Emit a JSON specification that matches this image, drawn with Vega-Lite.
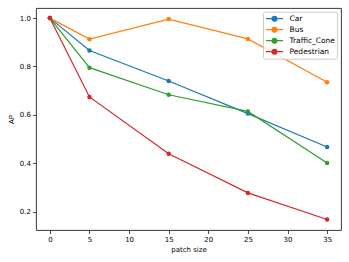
{
  "$schema": "https://vega.github.io/schema/vega-lite/v6.json",
  "width": 305,
  "height": 222,
  "autosize": {"type": "none"},
  "padding": {"left": 36, "top": 8, "right": 8, "bottom": 32},
  "background": "white",
  "config": {
    "font": "DejaVu Sans",
    "view": {"stroke": "#222", "strokeWidth": 0.9},
    "axis": {
      "grid": false,
      "domain": false,
      "tickColor": "#222",
      "tickSize": 3.5,
      "tickWidth": 0.8,
      "labelFontSize": 7,
      "labelColor": "#000",
      "labelFont": "DejaVu Sans",
      "titleFontSize": 7,
      "titleFontWeight": "normal",
      "titleColor": "#000",
      "labelPadding": 2
    }
  },
  "data": {
    "values": [
      {"series": "Car", "x": 0, "y": 1.0},
      {"series": "Car", "x": 5, "y": 0.866},
      {"series": "Car", "x": 15, "y": 0.740},
      {"series": "Car", "x": 25, "y": 0.605},
      {"series": "Car", "x": 35, "y": 0.467},
      {"series": "Bus", "x": 0, "y": 1.0},
      {"series": "Bus", "x": 5, "y": 0.913},
      {"series": "Bus", "x": 15, "y": 0.996},
      {"series": "Bus", "x": 25, "y": 0.914},
      {"series": "Bus", "x": 35, "y": 0.735},
      {"series": "Traffic_Cone", "x": 0, "y": 1.0},
      {"series": "Traffic_Cone", "x": 5, "y": 0.795},
      {"series": "Traffic_Cone", "x": 15, "y": 0.683},
      {"series": "Traffic_Cone", "x": 25, "y": 0.614},
      {"series": "Traffic_Cone", "x": 35, "y": 0.401},
      {"series": "Pedestrian", "x": 0, "y": 1.0},
      {"series": "Pedestrian", "x": 5, "y": 0.674},
      {"series": "Pedestrian", "x": 15, "y": 0.439},
      {"series": "Pedestrian", "x": 25, "y": 0.277},
      {"series": "Pedestrian", "x": 35, "y": 0.167}
    ]
  },
  "encoding": {
    "x": {
      "field": "x", "type": "quantitative",
      "scale": {"domain": [-1.75, 36.75], "nice": false, "zero": false},
      "axis": {"values": [0, 5, 10, 15, 20, 25, 30, 35], "title": "patch size", "titlePadding": 3}
    },
    "y": {
      "field": "y", "type": "quantitative",
      "scale": {"domain": [0.1235, 1.0418], "nice": false, "zero": false},
      "axis": {"values": [0.2, 0.4, 0.6, 0.8, 1.0], "format": ".1f", "title": "AP", "titlePadding": 5}
    },
    "color": {
      "field": "series", "type": "nominal",
      "scale": {"domain": ["Car", "Bus", "Traffic_Cone", "Pedestrian"], "range": ["#1f77b4", "#ff7f0e", "#2ca02c", "#d62728"]},
      "legend": {
        "title": null,
        "orient": "none",
        "legendX": 227,
        "legendY": 3.7,
        "padding": 2,
        "strokeColor": "#cccccc",
        "fillColor": "rgba(255,255,255,0.8)",
        "cornerRadius": 2,
        "symbolType": "M-2,0H2M0.56,0A0.56,0.56,0,1,1,-0.56,0A0.56,0.56,0,1,1,0.56,0Z",
        "symbolSize": 72,
        "symbolStrokeWidth": 1.2,
        "symbolOffset": 4.5,
        "labelOffset": 10,
        "labelFontSize": 7.5,
        "labelColor": "#000",
        "rowPadding": 1,
        "encode": {"symbols": {"update": {"fill": {"scale": "color", "field": "value"}, "stroke": {"scale": "color", "field": "value"}, "opacity": {"value": 1}}}}
      }
    }
  },
  "layer": [
    {"mark": {"type": "line", "strokeWidth": 1.2}},
    {"mark": {"type": "point", "filled": true, "size": 20, "opacity": 1}}
  ]
}
